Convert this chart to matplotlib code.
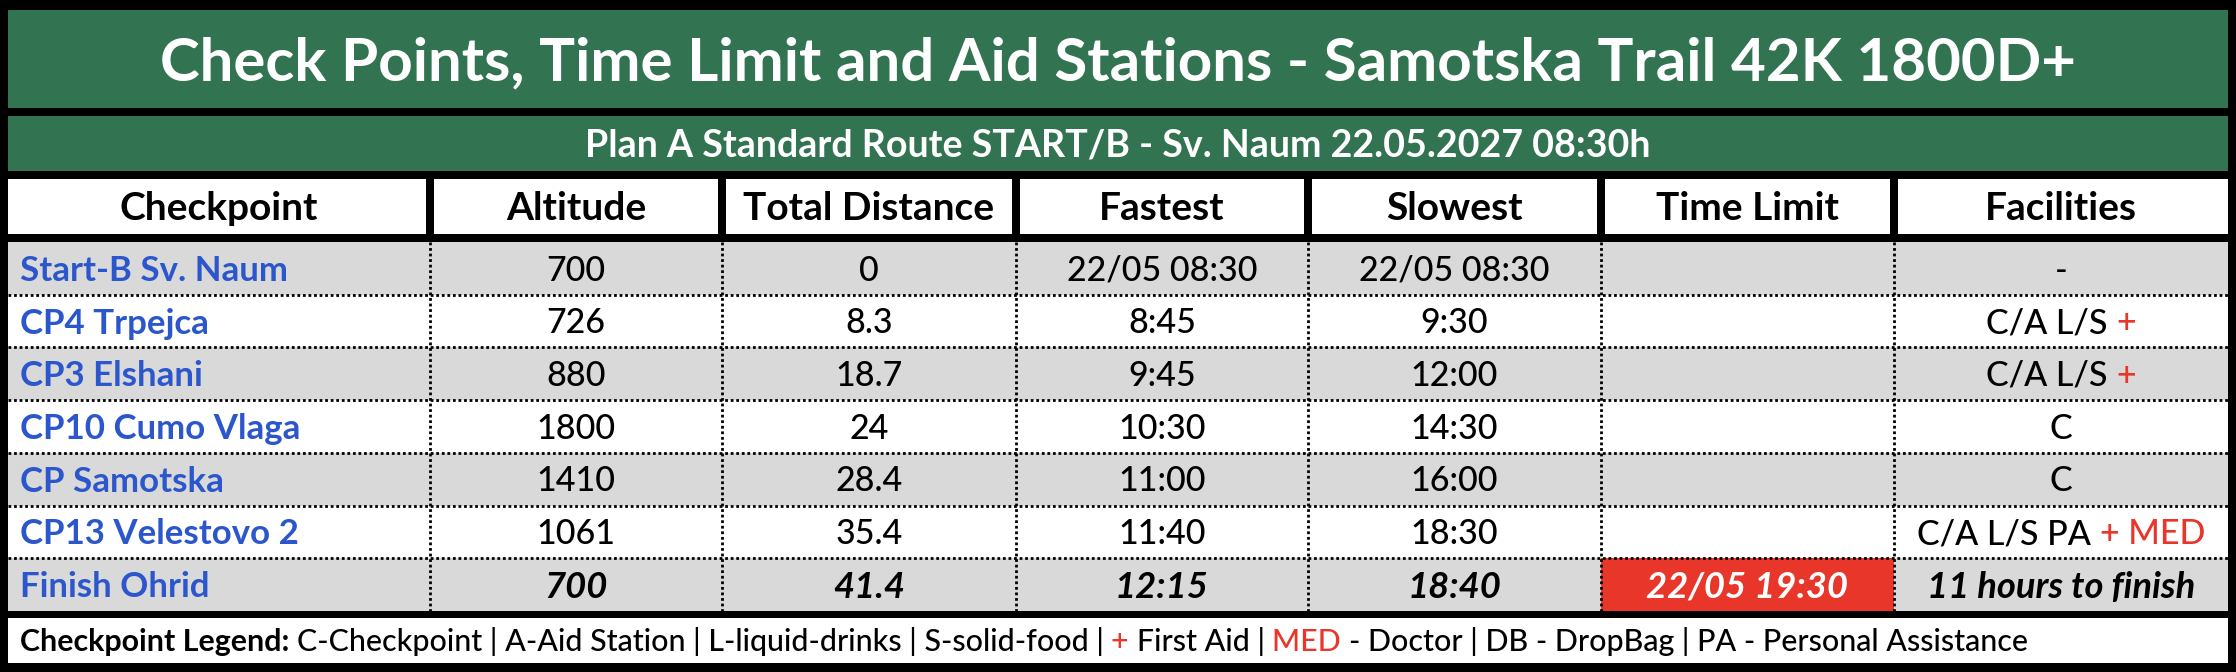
import matplotlib
matplotlib.use("Agg")
import matplotlib.pyplot as plt
from matplotlib.patches import Rectangle

# ---------------- data ----------------
title = "Check Points, Time Limit and Aid Stations - Samotska Trail 42K 1800D+"
subtitle = "Plan A Standard Route START/B - Sv. Naum 22.05.2027 08:30h"
columns = ["Checkpoint", "Altitude", "Total Distance", "Fastest", "Slowest", "Time Limit", "Facilities"]
checkpoints = ["Start-B Sv. Naum", "CP4 Trpejca", "CP3 Elshani", "CP10 Cumo Vlaga",
               "CP Samotska", "CP13 Velestovo 2", "Finish Ohrid"]
altitude = [700, 726, 880, 1800, 1410, 1061, 700]
distance = ["0", "8.3", "18.7", "24", "28.4", "35.4", "41.4"]
fastest = ["22/05 08:30", "8:45", "9:45", "10:30", "11:00", "11:40", "12:15"]
slowest = ["22/05 08:30", "9:30", "12:00", "14:30", "16:00", "18:30", "18:40"]
time_limit = ["", "", "", "", "", "", "22/05 19:30"]
facilities = ["-", "C/A L/S +", "C/A L/S +", "C", "C", "C/A L/S PA + MED", "11 hours to finish"]
legend_label = "Checkpoint Legend:"
legend_text = ("C-Checkpoint | A-Aid Station | L-liquid-drinks | S-solid-food | + First Aid | "
               "MED - Doctor | DB - DropBag | PA - Personal Assistance")
red_tokens = {"+", "MED"}

# ---------------- style ----------------
FONT = ["Lato", "DejaVu Sans"]
REG = "medium"
GREEN = "#327352"
GRAY = "#d9d9d9"
BLUE = "#2b56cc"
RED = "#e8372a"
RED_CELL = "#e8362a"

W, H = 2236, 672
fig = plt.figure(figsize=(W / 100, H / 100), dpi=100)
fig.patch.set_facecolor("black")
ax = fig.add_axes([0, 0, 1, 1])
ax.set_xlim(0, W)
ax.set_ylim(H, 0)
ax.axis("off")
renderer = fig.canvas.get_renderer()

L, R = 8, 2228
title_band = (10, 108)
sub_band = (116, 171)
head_band = (179, 234)
data_band = (242, 611)
leg_band = (618, 663)
col_edges = [8, 430, 722, 1016, 1308, 1601, 1894, 2228]
n_rows = len(checkpoints)
row_h = (data_band[1] - data_band[0]) / n_rows


def width(s, fs, weight=REG, style="normal"):
    t = ax.text(0, 0, s, fontsize=fs, fontweight=weight, fontstyle=style, family=FONT)
    w = t.get_window_extent(renderer).width
    t.remove()
    return w


def adv(s, fs, weight=REG, style="normal"):
    return width(s + "|", fs, weight, style) - width("|", fs, weight, style)


def fit(s, target, weight=REG, style="normal"):
    return 20 * target / width(s, 20, weight, style)


def baseline(yc, fs):
    return yc + 0.5 * 0.7165 * fs * 100 / 72


def runs_from(text, color, weight=REG, style="normal"):
    toks = text.split(" ")
    runs = []
    for tok in toks:
        c = RED if tok in red_tokens else color
        if runs and runs[-1][1] == c:
            runs[-1][0] += " " + tok
        else:
            if runs:
                runs[-1][0] += " "
            runs.append([tok, c, weight, style])
    return runs


def draw_runs(x, yc, runs, fs, ha="center"):
    ws = [adv(r[0], fs, r[2], r[3]) for r in runs[:-1]]
    ws.append(width(runs[-1][0], fs, runs[-1][2], runs[-1][3]))
    total = sum(ws)
    x0 = x - total / 2 if ha == "center" else x
    yb = baseline(yc, fs)
    for (t, c, wgt, sty), w in zip(runs, ws):
        ax.text(x0, yb, t, color=c, fontsize=fs, fontweight=wgt, fontstyle=sty,
                family=FONT, ha="left", va="baseline")
        x0 += w


# font sizes fitted to reference widths
title_fs = fit(title, 1917, "bold")
sub_fs = fit(subtitle, 1068, "bold")
head_fs = fit("Checkpoint", 199, "bold")
name_fs = fit(checkpoints[0], 268, "bold")
val_fs = fit(fastest[0], 190)
fin_fs = fit(facilities[-1], 268, "bold", "italic")
leg_w20 = adv(legend_label + " ", 20, "bold") + width(legend_text, 20)
leg_fs = 20 * 2011 / leg_w20

# ---- title bands ----
ax.add_patch(Rectangle((L, title_band[0]), R - L, title_band[1] - title_band[0], color=GREEN, lw=0))
ax.add_patch(Rectangle((L, sub_band[0]), R - L, sub_band[1] - sub_band[0], color=GREEN, lw=0))
ax.text(W / 2, baseline(sum(title_band) / 2, title_fs), title, color="white", fontsize=title_fs,
        fontweight="bold", family=FONT, ha="center", va="baseline")
ax.text(W / 2, baseline(sum(sub_band) / 2, sub_fs), subtitle, color="white", fontsize=sub_fs,
        fontweight="bold", family=FONT, ha="center", va="baseline")

# ---- header ----
centers = [(col_edges[i] + col_edges[i + 1]) / 2 for i in range(len(columns))]
for i, name in enumerate(columns):
    x0 = col_edges[i] + (0 if i == 0 else 4)
    x1 = col_edges[i + 1] - (0 if i == len(columns) - 1 else 4)
    ax.add_patch(Rectangle((x0, head_band[0]), x1 - x0, head_band[1] - head_band[0], color="white", lw=0))
    ax.text(centers[i], baseline(sum(head_band) / 2, head_fs), name, color="black", fontsize=head_fs,
            fontweight="bold", family=FONT, ha="center", va="baseline")

# ---- data rows ----
for r in range(n_rows):
    y0 = data_band[0] + r * row_h
    ax.add_patch(Rectangle((L, y0), R - L, row_h, color=GRAY if r % 2 == 0 else "white", lw=0))
    if time_limit[r]:
        ax.add_patch(Rectangle((col_edges[5], y0), col_edges[6] - col_edges[5], row_h, color=RED_CELL, lw=0))

for r in range(1, n_rows):
    y = data_band[0] + r * row_h
    ax.plot([L, R], [y, y], color="black", lw=2, ls=(0, (1, 1)))
for e in col_edges[1:-1]:
    ax.plot([e, e], data_band, color="black", lw=2, ls=(0, (1, 1)))

for r in range(n_rows):
    yc = data_band[0] + (r + 0.5) * row_h
    last = r == n_rows - 1
    wgt = "bold" if last else REG
    sty = "italic" if last else "normal"
    fs = fin_fs if last else val_fs
    ax.text(20, baseline(yc, name_fs), checkpoints[r], color=BLUE, fontsize=name_fs,
            fontweight="bold", family=FONT, ha="left", va="baseline")
    vals = [str(altitude[r]), distance[r], fastest[r], slowest[r]]
    for j, v in enumerate(vals):
        ax.text(centers[j + 1], baseline(yc, fs), v, color="black", fontsize=fs,
                fontweight=wgt, fontstyle=sty, family=FONT, ha="center", va="baseline")
    if time_limit[r]:
        ax.text(centers[5], baseline(yc, fs), time_limit[r], color="white", fontsize=fs,
                fontweight="bold", fontstyle="italic", family=FONT, ha="center", va="baseline")
    draw_runs(centers[6], yc, runs_from(facilities[r], "black", wgt, sty), fs)

# ---- legend ----
ax.add_patch(Rectangle((L, leg_band[0]), R - L, leg_band[1] - leg_band[0], color="white", lw=0))
leg_runs = [[legend_label + " ", "black", "bold", "normal"]] + runs_from(legend_text, "black")
draw_runs(20, sum(leg_band) / 2, leg_runs, leg_fs, ha="left")

fig.savefig("out.png", dpi=100, facecolor=fig.get_facecolor())
